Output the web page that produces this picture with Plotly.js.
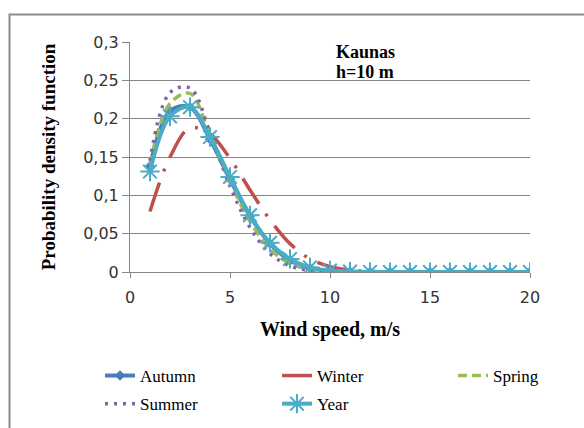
<!DOCTYPE html>
<html>
<head>
<meta charset="utf-8">
<script src="https://cdn.plot.ly/plotly-3.0.1.min.js"></script>
<style>html,body{margin:0;padding:0;background:#fff;}#chart{width:584px;height:428px;}</style>
</head>
<body>
<div id="chart"></div>
<script>
var windSpeed = [1,2,3,4,5,6,7,8,9,10,11,12,13,14,15,16,17,18,19,20];
var autumn = [0.138,0.210,0.215,0.173,0.121,0.073,0.037,0.015,0.005,0.0015,0.0004,0.0001,0,0,0,0,0,0,0,0];
var winter = [0.079,0.150,0.188,0.180,0.148,0.107,0.068,0.037,0.017,0.007,0.0025,0.0008,0.0002,0,0,0,0,0,0,0];
var spring = [0.140,0.220,0.233,0.178,0.118,0.066,0.030,0.011,0.0035,0.001,0.0002,0,0,0,0,0,0,0,0,0];
var summer = [0.145,0.234,0.240,0.182,0.112,0.058,0.024,0.008,0.002,0.0005,0.0001,0,0,0,0,0,0,0,0,0];
var year = [0.131,0.203,0.215,0.176,0.124,0.074,0.038,0.017,0.006,0.002,0.0005,0.0001,0,0,0,0,0,0,0,0];
var seriesNames = ['Autumn','Winter','Spring','Summer','Year'];
var yTicks = [0,0.05,0.1,0.15,0.2,0.25,0.3];
var xTicks = [0,5,10,15,20];

var traces = [
  {x: windSpeed, y: autumn, name: seriesNames[0], mode: 'lines+markers', legend: 'legend', legendgroup: 'a',
   line: {color: '#4A7EBB', width: 4, shape: 'spline', smoothing: 1},
   marker: {symbol: 'diamond', size: 8, color: '#4A7EBB'}},
  {x: windSpeed, y: winter, name: seriesNames[1], mode: 'lines', legend: 'legend2', legendgroup: 'b',
   line: {color: '#C0504D', width: 3.5, shape: 'spline', smoothing: 1, dash: '30px,12px,3px,12px'}},
  {x: windSpeed, y: spring, name: seriesNames[2], mode: 'lines', legend: 'legend3', legendgroup: 'c',
   line: {color: '#9BBB59', width: 3.5, shape: 'spline', smoothing: 1, dash: '9px,5px'}},
  {x: windSpeed, y: summer, name: seriesNames[3], mode: 'lines', legend: 'legend', legendgroup: 'd',
   line: {color: '#8064A2', width: 3.5, shape: 'spline', smoothing: 1, dash: '3px,6px'}},
  {x: windSpeed, y: year, name: seriesNames[4], mode: 'lines+markers', legend: 'legend2', legendgroup: 'e',
   line: {color: '#4BACC6', width: 4, shape: 'spline', smoothing: 1},
   marker: {symbol: 'asterisk-open', size: 16, line: {color: '#4BACC6', width: 2}}}
];

function legendAt(px) {
  return {
    orientation: 'v', xref: 'paper', yref: 'paper',
    x: (px-130)/400, y: (272-358)/230, xanchor: 'left', yanchor: 'top',
    font: {family: 'Liberation Serif', size: 17, color: '#000'},
    bgcolor: 'rgba(0,0,0,0)', traceorder: 'grouped', tracegroupgap: 3
  };
}

var layout = {
  width: 584, height: 428,
  margin: {l: 130, r: 54, t: 42, b: 156, autoexpand: false},
  paper_bgcolor: '#fff', plot_bgcolor: '#fff',
  separators: ', ',
  showlegend: true,
  xaxis: {
    range: [0, 20], tickvals: xTicks, ticktext: xTicks.map(String),
    showgrid: false, zeroline: false, showline: true, linecolor: '#868686', linewidth: 1,
    ticks: 'outside', ticklen: 5, tickcolor: '#868686', ticklabelstandoff: 6,
    tickfont: {family: 'DejaVu Sans', size: 16, color: '#333'},
    title: {text: 'Wind speed, m/s', font: {family: 'Liberation Serif', size: 20, color: '#000', weight: 'bold'}, standoff: 15}
  },
  yaxis: {
    range: [0, 0.3], tickvals: yTicks,
    showgrid: true, gridcolor: '#868686', gridwidth: 1, zeroline: false,
    showline: true, linecolor: '#868686', linewidth: 1,
    ticks: 'outside', ticklen: 7, tickcolor: '#868686',
    tickfont: {family: 'DejaVu Sans', size: 16, color: '#333'},
    title: {text: 'Probability density function', font: {family: 'Liberation Serif', size: 19, color: '#000', weight: 'bold'}, standoff: 22}
  },
  legend: legendAt(100),
  legend2: legendAt(277),
  legend3: legendAt(453),
  annotations: [
    {xref: 'paper', yref: 'paper', x: (365-130)/400, y: (272-52)/230, xanchor: 'center', yanchor: 'middle',
     text: 'Kaunas', showarrow: false, font: {family: 'Liberation Serif', size: 18, color: '#000', weight: 'bold'}},
    {xref: 'paper', yref: 'paper', x: (365-130)/400, y: (272-72)/230, xanchor: 'center', yanchor: 'middle',
     text: 'h=10 m', showarrow: false, font: {family: 'Liberation Serif', size: 18, color: '#000', weight: 'bold'}}
  ],
  shapes: [
    {type: 'rect', xref: 'paper', yref: 'paper', x0: (9.5-130)/400, x1: 2, y0: -3, y1: (272-14.5)/230,
     line: {color: '#8c8c8c', width: 2}, layer: 'below'}
  ]
};

Plotly.newPlot('chart', traces, layout, {displayModeBar: false, staticPlot: true});
</script>
</body>
</html>
